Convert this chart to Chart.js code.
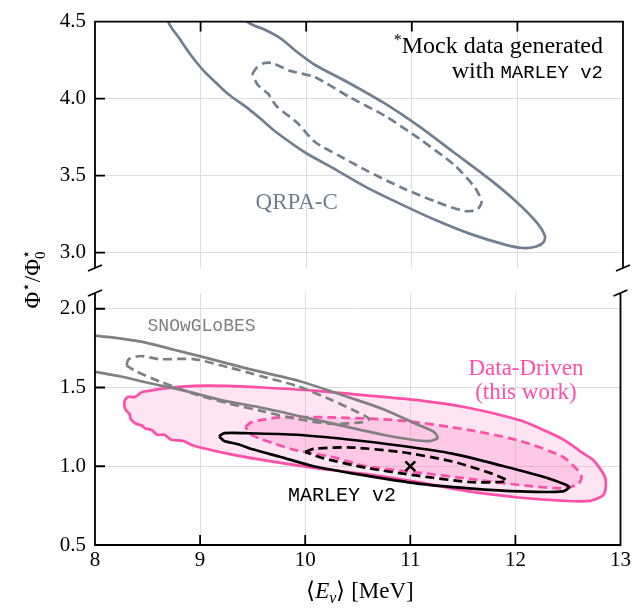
<!DOCTYPE html>
<html>
<head>
<meta charset="utf-8">
<script src="https://cdn.jsdelivr.net/npm/chart.js@4.4.0/dist/chart.umd.min.js"></script>
<style>
  body { margin: 0; background: #fff; }
  #wrap { position: relative; width: 634px; height: 608px; background: #fff; }
  #wrap canvas { position: absolute; left: 0; top: 0; }
</style>
</head>
<body>
<div id="wrap">
  <canvas id="top_chart" width="634" height="608"></canvas>
  <canvas id="bottom_chart" width="634" height="608"></canvas>
</div>
<script>
// tick values
const xTicks = [8, 9, 10, 11, 12, 13];
const yTicksTop = [3.0, 3.5, 4.0, 4.5];
const yTicksBottom = [0.5, 1.0, 1.5, 2.0];

// contours, [<E_nu> MeV, Phi*/Phi0*]
const qrpaOuter = [[8.68,4.60],[8.70,4.49],[8.80,4.39],[8.90,4.29],[9.03,4.18],[9.15,4.10],[9.26,4.03],[9.46,3.93],[9.60,3.85],[9.72,3.78],[9.99,3.65],[10.25,3.55],[10.58,3.42],[10.91,3.31],[11.23,3.21],[11.56,3.12],[11.89,3.05],[12.05,3.03],[12.18,3.04],[12.25,3.07],[12.26,3.11],[12.19,3.19],[11.99,3.33],[11.73,3.48],[11.40,3.65],[11.07,3.82],[10.74,3.97],[10.41,4.10],[10.08,4.22],[9.90,4.31],[9.76,4.39],[9.60,4.45],[9.46,4.49],[9.30,4.60]];
const qrpaInner = [[9.49,4.16],[9.53,4.20],[9.60,4.23],[9.68,4.23],[9.85,4.18],[10.08,4.14],[10.41,4.01],[10.74,3.89],[11.07,3.74],[11.40,3.57],[11.60,3.42],[11.66,3.33],[11.62,3.28],[11.50,3.27],[11.23,3.33],[10.91,3.42],[10.58,3.53],[10.31,3.63],[10.08,3.72],[9.92,3.84],[9.72,3.95],[9.64,4.03],[9.54,4.09],[9.49,4.16]];

const snowOuter = [[7.9,1.84],[8.0,1.83],[8.25,1.81],[8.45,1.79],[8.75,1.74],[9.05,1.69],[9.45,1.62],[9.95,1.54],[10.45,1.43],[10.75,1.36],[11.05,1.27],[11.22,1.22],[11.26,1.18],[11.18,1.16],[11.0,1.17],[10.74,1.20],[10.4,1.25],[10.0,1.31],[9.6,1.37],[9.2,1.42],[8.85,1.48],[8.5,1.53],[8.25,1.57],[8.0,1.60],[7.9,1.61]];
const snowInner = [[8.30,1.64],[8.32,1.68],[8.44,1.70],[8.61,1.68],[8.94,1.68],[9.26,1.63],[9.59,1.57],[9.92,1.51],[10.25,1.42],[10.51,1.34],[10.61,1.30],[10.55,1.28],[10.25,1.27],[9.92,1.30],[9.59,1.35],[9.26,1.40],[8.94,1.46],[8.61,1.54],[8.40,1.60],[8.30,1.64]];

const ddOuter = [[8.44,1.47],[8.61,1.49],[8.94,1.51],[9.26,1.51],[9.59,1.50],[10.08,1.48],[10.58,1.45],[11.07,1.42],[11.56,1.37],[12.05,1.29],[12.3,1.22],[12.48,1.16],[12.65,1.08],[12.74,1.04],[12.83,0.96],[12.86,0.91],[12.84,0.82],[12.71,0.78],[12.48,0.78],[12.05,0.80],[11.56,0.84],[11.07,0.90],[10.58,0.95],[10.08,0.99],[9.59,1.04],[9.26,1.08],[8.94,1.13],[8.84,1.16],[8.72,1.17],[8.66,1.20],[8.59,1.20],[8.54,1.23],[8.48,1.24],[8.44,1.26],[8.39,1.27],[8.34,1.30],[8.33,1.33],[8.29,1.36],[8.28,1.41],[8.31,1.44],[8.38,1.44],[8.44,1.47]];
const ddInner = [[9.43,1.25],[9.49,1.28],[9.76,1.31],[10.25,1.31],[10.91,1.29],[11.56,1.23],[12.05,1.16],[12.45,1.06],[12.60,0.97],[12.63,0.93],[12.60,0.89],[12.48,0.86],[12.05,0.88],[11.56,0.92],[11.07,0.96],[10.58,1.00],[10.25,1.06],[9.92,1.10],[9.72,1.14],[9.59,1.17],[9.49,1.20],[9.43,1.25]];

const marleyOuter = [[9.18,1.19],[9.23,1.21],[9.43,1.21],[9.92,1.20],[10.41,1.17],[10.91,1.13],[11.40,1.08],[11.89,1.00],[12.28,0.93],[12.51,0.87],[12.45,0.84],[12.05,0.84],[11.56,0.86],[11.07,0.89],[10.58,0.94],[10.08,1.00],[9.76,1.06],[9.49,1.11],[9.36,1.14],[9.23,1.16],[9.18,1.19]];
const marleyInner = [[10.00,1.09],[10.08,1.11],[10.41,1.12],[10.91,1.09],[11.40,1.03],[11.79,0.95],[11.92,0.91],[11.86,0.90],[11.56,0.90],[11.07,0.94],[10.58,0.99],[10.18,1.05],[10.00,1.09]];

const truth = [[11.0, 1.0]];

const SERIF = "'Liberation Serif', serif";
const MONO = "'Liberation Mono', monospace";
const PINK = '#ff4fa8';
const SLATE = '#708090';
const GREY = '#808080';

function contour(points, color, dashed, extra) {
    return Object.assign({
        data: points.map(p => ({x: p[0], y: p[1]})),
        showLine: true,
        borderColor: color,
        borderWidth: 2.7,
        borderDash: dashed ? [9, 5] : [],
        pointRadius: 0,
        pointHoverRadius: 0,
        tension: 0.25,
        fill: false
    }, extra || {});
}

// fills the closed contours (uses the points chart.js has placed)
const shapeFill = {
    id: 'shapeFill',
    beforeDatasetsDraw(chart) {
        const ctx = chart.ctx, a = chart.chartArea;
        ctx.save();
        ctx.beginPath();
        ctx.rect(a.left, a.top, a.right - a.left, a.bottom - a.top);
        ctx.clip();
        const ds = chart.data.datasets;
        for (let i = ds.length - 1; i >= 0; i--) {
            if (!ds[i].areaColor) continue;
            const pts = chart.getDatasetMeta(i).data;
            ctx.beginPath();
            pts.forEach((p, k) => k ? ctx.lineTo(p.x, p.y) : ctx.moveTo(p.x, p.y));
            ctx.closePath();
            ctx.fillStyle = ds[i].areaColor;
            ctx.fill();
        }
        ctx.restore();
    }
};

// spines, inward ticks and the axis-break marks
const frame = {
    id: 'frame',
    afterDatasetsDraw(chart, args, opts) {
        const ctx = chart.ctx, a = chart.chartArea;
        const xs = chart.scales.x, ys = chart.scales.y;
        const top = opts.panel === 'top';
        ctx.save();
        ctx.strokeStyle = '#000';
        ctx.lineWidth = 1.8;
        ctx.beginPath();
        ctx.moveTo(a.left, a.top); ctx.lineTo(a.left, a.bottom);
        ctx.moveTo(a.right, a.top); ctx.lineTo(a.right, a.bottom);
        const yEdge = top ? a.top : a.bottom;
        ctx.moveTo(a.left - 0.9, yEdge); ctx.lineTo(a.right + 0.9, yEdge);
        ys.ticks.forEach(t => {
            const y = ys.getPixelForValue(t.value);
            ctx.moveTo(a.left, y); ctx.lineTo(a.left + 10, y);
        });
        xs.ticks.forEach(t => {
            const x = xs.getPixelForValue(t.value);
            if (x < a.left + 2 || x > a.right - 2) return;
            ctx.moveTo(x, yEdge); ctx.lineTo(x, yEdge + (top ? 10 : -10));
        });
        const yb = top ? a.bottom : a.top;
        [a.left, a.right].forEach(x => {
            ctx.moveTo(x - 7, yb + 3); ctx.lineTo(x + 7, yb - 3);
        });
        ctx.stroke();
        ctx.restore();
    }
};

// text made of pieces with their own font / offset
function drawRuns(ctx, runs, x, y, align) {
    let w = 0;
    runs.forEach(r => { ctx.font = r.f; if (r.adv !== false) w += ctx.measureText(r.t).width; });
    let cx = align === 'right' ? x - w : (align === 'center' ? x - w / 2 : x);
    ctx.textAlign = 'left';
    ctx.textBaseline = 'alphabetic';
    runs.forEach(r => {
        ctx.font = r.f;
        ctx.fillText(r.t, cx, y + (r.dy || 0));
        if (r.adv !== false) cx += ctx.measureText(r.t).width;
    });
}

const labels = {
    id: 'labels',
    afterDraw(chart, args, opts) {
        const ctx = chart.ctx, a = chart.chartArea;
        const xs = chart.scales.x, ys = chart.scales.y;
        const px = v => xs.getPixelForValue(v), py = v => ys.getPixelForValue(v);
        ctx.save();
        if (opts.panel === 'top') {
            ctx.fillStyle = '#000';
            drawRuns(ctx, [
                {t: '*', f: '16px ' + SERIF, dy: -8},
                {t: 'Mock data generated', f: '24px ' + SERIF}
            ], a.right - 20, 53, 'right');
            drawRuns(ctx, [
                {t: 'with ', f: '24px ' + SERIF},
                {t: 'MARLEY v2', f: '19px ' + MONO}
            ], a.right - 20, 78, 'right');
            ctx.fillStyle = SLATE;
            drawRuns(ctx, [{t: 'QRPA-C', f: '23px ' + SERIF}], px(9.91), py(3.28), 'center');
        } else {
            ctx.fillStyle = GREY;
            drawRuns(ctx, [{t: 'SNOwGLoBES', f: '18px ' + MONO}], px(8.5), py(1.86), 'left');
            ctx.fillStyle = PINK;
            drawRuns(ctx, [{t: 'Data-Driven', f: '23px ' + SERIF}], px(12.1), py(1.58), 'center');
            drawRuns(ctx, [{t: '(this work)', f: '23px ' + SERIF}], px(12.1), py(1.43), 'center');
            ctx.fillStyle = '#000';
            drawRuns(ctx, [{t: 'MARLEY v2', f: '20px ' + MONO}], px(10.35), py(0.78), 'center');

            // axis titles
            drawRuns(ctx, [
                {t: '\u27E8', f: '23px ' + SERIF},
                {t: 'E', f: 'italic 23px ' + SERIF},
                {t: '\u03BD', f: 'italic 16px ' + SERIF, dy: 5},
                {t: '\u27E9 [MeV]', f: '23px ' + SERIF}
            ], 360, 598, 'center');
            ctx.translate(32, 280);
            ctx.rotate(-Math.PI / 2);
            drawRuns(ctx, [
                {t: '\u03A6', f: '23px ' + SERIF},
                {t: '\u22C6', f: '15px DejaVu Sans', dy: -9},
                {t: '/\u03A6', f: '23px ' + SERIF},
                {t: '\u22C6', f: '15px DejaVu Sans', dy: -9, adv: false},
                {t: '0', f: '15px ' + SERIF, dy: 5}
            ], 0, 8, 'center');
        }
        ctx.restore();
    }
};

function getConfig(panel) {
    const top = panel === 'top';
    const datasets = top ? [
        contour(qrpaInner, SLATE, true),
        contour(qrpaOuter, SLATE, false)
    ] : [
        {
            data: truth.map(p => ({x: p[0], y: p[1]})),
            pointStyle: 'crossRot',
            pointRadius: 7,
            pointBorderWidth: 2.6,
            pointBorderColor: '#000',
            showLine: false
        },
        contour(marleyInner, '#000', true),
        contour(marleyOuter, '#000', false),
        contour(snowInner, GREY, true),
        contour(snowOuter, GREY, false),
        contour(ddInner, PINK, true, {areaColor: 'rgba(255, 105, 180, 0.22)'}),
        contour(ddOuter, PINK, false, {areaColor: 'rgba(255, 105, 180, 0.18)'})
    ];
    const tickFont = {family: 'Liberation Serif', size: 21};
    return {
        type: 'scatter',
        data: {datasets: datasets},
        options: {
            responsive: false,
            animation: false,
            events: [],
            layout: {padding: top ? {top: 17, right: 11, bottom: 340, left: 0}
                                  : {top: 293, right: 11, bottom: 0, left: 0}},
            plugins: {
                legend: {display: false},
                tooltip: {enabled: false},
                frame: {panel: panel},
                labels: {panel: panel}
            },
            scales: {
                x: {
                    type: 'linear',
                    min: 8, max: 13,
                    afterBuildTicks: s => { s.ticks = xTicks.map(v => ({value: v})); },
                    afterFit: s => { s.height = top ? 0 : 63; },
                    grid: {color: '#dedede', lineWidth: 1, drawTicks: false},
                    border: {display: false},
                    ticks: {
                        display: !top,
                        color: '#000',
                        font: tickFont,
                        padding: 3,
                        autoSkip: false,
                        maxRotation: 0,
                        callback: v => String(v)
                    }
                },
                y: {
                    type: 'linear',
                    min: top ? 2.9 : 0.5,
                    max: top ? 4.5 : 2.1,
                    afterBuildTicks: s => { s.ticks = (top ? yTicksTop : yTicksBottom).map(v => ({value: v})); },
                    afterFit: s => { s.width = 95; },
                    grid: {color: '#dedede', lineWidth: 1, drawTicks: false},
                    border: {display: false},
                    ticks: {
                        color: '#000',
                        font: tickFont,
                        padding: 9,
                        autoSkip: false,
                        callback: v => Number(v).toFixed(1)
                    }
                }
            }
        },
        plugins: [shapeFill, frame, labels]
    };
}

new Chart(document.getElementById('top_chart').getContext('2d'), getConfig('top'));
new Chart(document.getElementById('bottom_chart').getContext('2d'), getConfig('bottom'));
</script>
</body>
</html>
